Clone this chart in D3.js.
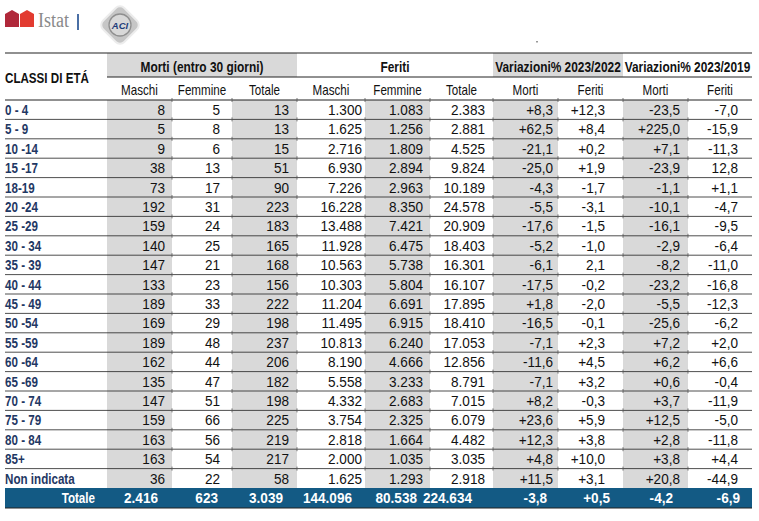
<!DOCTYPE html>
<html lang="it">
<head>
<meta charset="UTF-8">
<title>Morti e feriti per classi di età</title>
<script src="https://d3js.org/d3.v7.min.js"></script>
<style>
    body { margin: 0; background: #fff; }
    svg text { font-family: "Liberation Sans", Arial, sans-serif; }
</style>
</head>
<body>
<div id="table"></div>
<script>
    // Data
    const classi = ["0 - 4", "5 - 9", "10 -14", "15 -17", "18-19", "20 -24", "25 -29", "30 - 34", "35 - 39", "40 - 44",
        "45 - 49", "50 -54", "55 -59", "60 -64", "65 -69", "70 - 74", "75 - 79", "80 - 84", "85+", "Non indicata"];
    const mortiMaschi = [8, 5, 9, 38, 73, 192, 159, 140, 147, 133, 189, 169, 189, 162, 135, 147, 159, 163, 163, 36];
    const mortiFemmine = [5, 8, 6, 13, 17, 31, 24, 25, 21, 23, 33, 29, 48, 44, 47, 51, 66, 56, 54, 22];
    const mortiTotale = [13, 13, 15, 51, 90, 223, 183, 165, 168, 156, 222, 198, 237, 206, 182, 198, 225, 219, 217, 58];
    const feritiMaschi = [1300, 1625, 2716, 6930, 7226, 16228, 13488, 11928, 10563, 10303, 11204, 11495, 10813, 8190, 5558, 4332, 3754, 2818, 2000, 1625];
    const feritiFemmine = [1083, 1256, 1809, 2894, 2963, 8350, 7421, 6475, 5738, 5804, 6691, 6915, 6240, 4666, 3233, 2683, 2325, 1664, 1035, 1293];
    const feritiTotale = [2383, 2881, 4525, 9824, 10189, 24578, 20909, 18403, 16301, 16107, 17895, 18410, 17053, 12856, 8791, 7015, 6079, 4482, 3035, 2918];
    // variations; a string is printed as it is (source shows no sign there)
    const var22Morti = [8.3, 62.5, -21.1, -25.0, -4.3, -5.5, -17.6, -5.2, -6.1, -17.5, 1.8, -16.5, -7.1, -11.6, -7.1, 8.2, 23.6, 12.3, 4.8, 11.5];
    const var22Feriti = [12.3, 8.4, 0.2, 1.9, -1.7, -3.1, -1.5, -1.0, "2,1", -0.2, -2.0, -0.1, 2.3, 4.5, 3.2, -0.3, 5.9, 3.8, 10.0, 3.1];
    const var19Morti = [-23.5, 225.0, 7.1, -23.9, -1.1, -10.1, -16.1, -2.9, -8.2, -23.2, -5.5, -25.6, 7.2, 6.2, 0.6, 3.7, 12.5, 2.8, 3.8, 20.8];
    const var19Feriti = [-7.0, -15.9, -11.3, "12,8", 1.1, -4.7, -9.5, -6.4, -11.0, -16.8, -12.3, -6.2, 2.0, 6.6, -0.4, -11.9, -5.0, -11.8, 4.4, -44.9];
    const totali = [2416, 623, 3039, 144096, 80538, 224634, -3.8, 0.5, -4.2, -6.9];

    const gruppi = ["Morti (entro 30 giorni)", "Feriti", "Variazioni% 2023/2022", "Variazioni% 2023/2019"];
    const sottoColonne = ["Maschi", "Femmine", "Totale", "Maschi", "Femmine", "Totale", "Morti", "Feriti", "Morti", "Feriti"];

    const colonne = [mortiMaschi, mortiFemmine, mortiTotale, feritiMaschi, feritiFemmine, feritiTotale,
        var22Morti, var22Feriti, var19Morti, var19Feriti];

    // Layout
    const W = 759, H = 521;
    const left = 5, right = 752, labelW = 102;
    const colW = [65, 60, 65, 68, 65, 63, 65, 65, 65, 64];
    const gruppoCols = [3, 3, 2, 2];
    // right padding of numbers
    const padBody = [7, 12, 8, 3, 7, 8, 5, 18, 8, 14];
    const padTot = [14, 14, 14, 13, 13, 21, 11, 13, 15, 12];
    const tableTop = 53, head1 = 24, head2 = 23, rowH = 19.4;
    const grey = "#d9d9d9", navy = "#1f3864", blu = "#135a84";
    const fs = 14, squeeze = 0.83;   // labels in a narrow Arial look

    const locale = d3.formatLocale({decimal: ",", thousands: ".", grouping: [3], currency: ["", "€"], minus: "-"});
    const fInt = locale.format(",d");
    const fVar = locale.format("+.1f");
    const fmt = (v, i) => typeof v === "string" ? v : (i < 6 ? fInt(v) : fVar(v));

    // column edges
    const edges = [left + labelW];
    colW.forEach(w => edges.push(edges[edges.length - 1] + w));
    const x0 = d3.scaleOrdinal().domain(d3.range(10)).range(edges.slice(0, 10));
    const x1 = d3.scaleOrdinal().domain(d3.range(10)).range(edges.slice(1));

    const bodyTop = tableTop + head1 + head2;
    const y = d3.scaleBand().domain(classi).range([bodyTop, bodyTop + rowH * classi.length]);
    const totTop = y.range()[1];

    const svg = d3.select("#table").append("svg")
        .attr("width", W).attr("height", H);

    // places text at (x, y), squeezed horizontally
    const place = (sel, fx, fy, k = squeeze) => sel
        .attr("transform", (d, i) => `translate(${fx(d, i)},${fy(d, i)}) scale(${k},1)`)
        .attr("font-size", fs);

    // Logos
    const logo = svg.append("g");
    logo.append("path").attr("d", "M5,14 L12,10 L19,14 L19,27 L5,27 Z").attr("fill", "#b0283a");
    logo.append("path").attr("d", "M20,14 L27,10 L34,14 L34,27 L20,27 Z").attr("fill", "#e23b30");
    logo.append("text").attr("x", 38).attr("y", 27).attr("font-size", 20)
        .style("font-family", "'Liberation Serif', serif").attr("fill", "#8a8a8a")
        .attr("textLength", 31).attr("lengthAdjust", "spacingAndGlyphs").text("Istat");
    logo.append("rect").attr("x", 77).attr("y", 14).attr("width", 2).attr("height", 16).attr("fill", "#4a6fa5");
    const aci = logo.append("g").attr("transform", "translate(120,25)");
    aci.append("rect").attr("x", -15).attr("y", -15).attr("width", 30).attr("height", 30).attr("rx", 6)
        .attr("transform", "rotate(45)").attr("fill", "#c6c6c6").attr("stroke", "#ececec").attr("stroke-width", 2);
    aci.append("circle").attr("r", 11).attr("fill", "#d8d8d8").attr("stroke", "#8f8f8f").attr("stroke-width", 1.3);
    aci.append("text").attr("y", 3.5).attr("text-anchor", "middle").attr("font-size", 9.5).attr("font-weight", "bold")
        .attr("font-style", "italic").attr("fill", "#1f3d7a").text("ACI");
    svg.append("rect").attr("x", 536).attr("y", 41).attr("width", 2).attr("height", 1.5).attr("fill", "#999");

    // Shaded cells (alternate columns)
    const shaded = [0, 2, 4, 6, 8];
    shaded.forEach(c => {
        svg.append("rect")
            .attr("x", x0(c)).attr("y", bodyTop)
            .attr("width", x1(c) - x0(c)).attr("height", totTop - bodyTop)
            .attr("fill", grey);
    });
    // header row 1 shading: groups 0 and 2
    let gStart = 0;
    const gEdges = gruppoCols.map(n => { const s = gStart; gStart += n; return [s, gStart - 1]; });
    [0, 2].forEach(g => {
        svg.append("rect")
            .attr("x", x0(gEdges[g][0])).attr("y", tableTop)
            .attr("width", x1(gEdges[g][1]) - x0(gEdges[g][0])).attr("height", head1)
            .attr("fill", grey);
    });

    // Total row
    svg.append("rect").attr("x", left).attr("y", totTop)
        .attr("width", right - left).attr("height", 20).attr("fill", blu);

    // Lines
    const hline = (xa, xb, yy, w) => svg.append("line")
        .attr("x1", xa).attr("x2", xb).attr("y1", yy).attr("y2", yy)
        .attr("stroke", "#222").attr("stroke-width", w);
    hline(left, right, tableTop, 1.2);
    hline(edges[0], right, tableTop + head1, 1);
    hline(left, right, bodyTop, 1.2);
    classi.forEach((c, i) => { if (i < classi.length - 1) hline(left, right, y(c) + rowH, 0.8); });
    hline(left, right, totTop + 20, 1.2);

    // little dotted ticks at column edges
    const ticks = [];
    classi.forEach(c => edges.slice(1, 10).forEach(e => ticks.push([e, y(c)])));
    svg.selectAll(".tick").data(ticks).enter().append("line")
        .attr("x1", d => d[0]).attr("x2", d => d[0])
        .attr("y1", d => d[1] - 2).attr("y2", d => d[1] + 2)
        .attr("stroke", "#555").attr("stroke-width", 0.8);

    // Header texts
    place(svg.append("text").datum("CLASSI DI ETÁ"), () => left, () => 83)
        .attr("font-weight", "bold").attr("fill", "#111").text(d => d);
    place(svg.selectAll(".gruppo").data(gruppi).enter().append("text"),
        (d, g) => (x0(gEdges[g][0]) + x1(gEdges[g][1])) / 2, () => tableTop + 19, 0.85)
        .attr("text-anchor", "middle").attr("font-weight", "bold").attr("fill", "#111")
        .text(d => d);
    place(svg.selectAll(".sotto").data(sottoColonne).enter().append("text"),
        (d, i) => (x0(i) + x1(i)) / 2, () => tableTop + head1 + 18)
        .attr("text-anchor", "middle").attr("fill", "#111")
        .text(d => d);

    // Row labels
    place(svg.selectAll(".classe").data(classi).enter().append("text"),
        () => left, d => y(d) + 15)
        .attr("font-weight", "bold").attr("fill", navy)
        .text(d => d);

    // Cells
    const cells = [];
    colonne.forEach((col, j) => col.forEach((v, i) => cells.push({j, i, v})));
    place(svg.selectAll(".cell").data(cells).enter().append("text"),
        d => x1(d.j) - padBody[d.j], d => y(classi[d.i]) + 15, 0.97)
        .attr("text-anchor", "end").attr("fill", "#111")
        .text(d => fmt(d.v, d.j));

    // Total row texts
    place(svg.append("text").datum("Totale"), () => 95, () => totTop + 15)
        .attr("text-anchor", "end").attr("font-weight", "bold").attr("fill", "#fff").text(d => d);
    place(svg.selectAll(".tot").data(totali).enter().append("text"),
        (d, j) => x1(j) - padTot[j], () => totTop + 15, 0.97)
        .attr("text-anchor", "end").attr("font-weight", "bold").attr("fill", "#fff")
        .text((d, j) => fmt(d, j));
</script>
</body>
</html>
